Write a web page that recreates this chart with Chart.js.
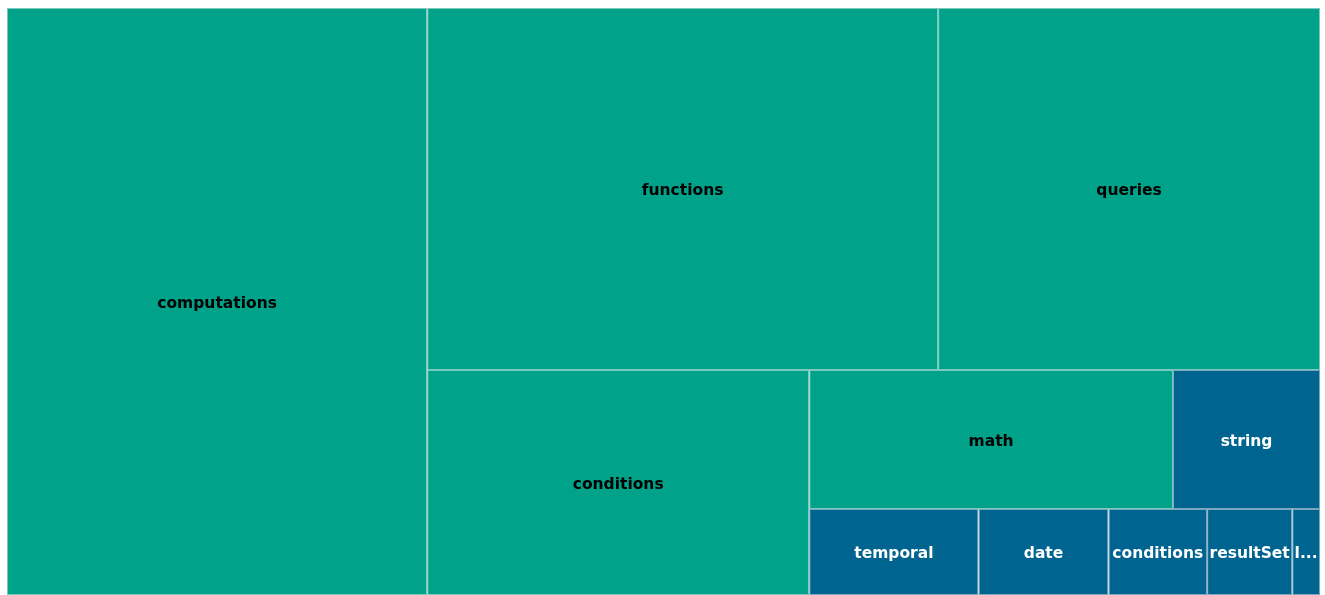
<!DOCTYPE html>
<html>
<head>
<meta charset="utf-8">
<script src="https://cdn.jsdelivr.net/npm/chart.js@4.4.1/dist/chart.umd.min.js"></script>
<style>
  html, body { margin: 0; padding: 0; background: #ffffff; }
  #wrap { width: 1325px; height: 595px; position: relative; }
</style>
</head>
<body>
<div id="wrap"><canvas id="treeChart"></canvas></div>
<script>
  // data (sorted by size, largest first)
  const categories = ['computations', 'functions', 'queries', 'conditions', 'math', 'string',
    'temporal', 'date', 'conditions', 'resultSet', 'lists'];
  const sizes = [320, 240, 179.4, 111.5, 65.6, 26.5, 18.9, 14.5, 11.0, 9.5, 3.1];
  const groups = ['A', 'A', 'A', 'A', 'A', 'B', 'B', 'B', 'B', 'B', 'B'];

  const groupFill = { A: '#00a389', B: '#006491' };
  const groupLine = { A: '#7ccabd', B: '#7aa9bf' };
  const groupText = { A: '#000000', B: '#ffffff' };

  // squarified layout, alternating strip direction each row
  function squarify(vals, w, h) {
    const total = vals.reduce((a, b) => a + b, 0);
    const areas = vals.map(v => v / total * w * h);
    const cells = [];
    let x = 0, y = 0, rw = w, rh = h, dir = 0, row = [];
    const aspect = (a, b) => Math.max(a / b, b / a);
    const rowSum = () => row.reduce((s, i) => s + areas[i], 0);

    function place() {
      const sum = rowSum();
      if (dir === 0) {
        const t = sum / rh;
        let yy = y;
        row.forEach(i => {
          const ch = areas[i] / t;
          cells[i] = { x0: x, y0: yy, x1: x + t, y1: yy + ch };
          yy += ch;
        });
        x += t; rw -= t;
      } else {
        const t = sum / rw;
        let xx = x;
        row.forEach(i => {
          const cw = areas[i] / t;
          cells[i] = { x0: xx, y0: y, x1: xx + cw, y1: y + t };
          xx += cw;
        });
        y += t; rh -= t;
      }
      dir = 1 - dir;
      row = [];
    }

    areas.forEach((a, i) => {
      if (row.length) {
        const last = areas[row[row.length - 1]];
        const side = dir === 0 ? rh : rw;
        const sum = rowSum();
        const t0 = sum / side, t1 = (sum + a) / side;
        if (aspect(t1, last / t1) > aspect(t0, last / t0)) place();
      }
      row.push(i);
    });
    if (row.length) place();
    // normalise to 0..1 for the scales
    return cells.map(c => ({ x0: c.x0 / w, x1: c.x1 / w, y0: c.y0 / h, y1: c.y1 / h }));
  }

  class TreemapController extends Chart.DatasetController {
    parse(start, count) {
      const parsed = this._cachedMeta._parsed;
      for (let i = start; i < start + count; i++) parsed[i] = { x: 0, y: 0 };
    }

    update(mode) {
      const meta = this._cachedMeta;
      this.updateElements(meta.data, 0, meta.data.length, mode);
    }

    updateElements(rects, start, count, mode) {
      const meta = this._cachedMeta;
      const xs = meta.xScale, ys = meta.yScale;
      const cells = squarify(this.getDataset().data, xs.width, ys.height);
      for (let i = start; i < start + count; i++) {
        const c = cells[i];
        const left = xs.getPixelForValue(c.x0), right = xs.getPixelForValue(c.x1);
        const top = ys.getPixelForValue(c.y0), bottom = ys.getPixelForValue(c.y1);
        this.updateElement(rects[i], i, {
          x: (left + right) / 2,
          y: top,
          base: bottom,
          width: right - left,
          height: bottom - top,
          horizontal: false,
          borderSkipped: {},
          inflateAmount: 0,
          options: this.resolveDataElementOptions(i, mode)
        }, mode);
      }
    }

    draw() {
      super.draw();
      const ctx = this.chart.ctx;
      const ds = this.getDataset();
      const meta = this._cachedMeta;
      ctx.save();
      ctx.font = 'bold 15.5px "DejaVu Sans"';
      ctx.textAlign = 'center';
      ctx.textBaseline = 'middle';
      meta.data.forEach((el, i) => {
        const maxW = el.width - 2;
        let txt = ds.labels[i];
        if (ctx.measureText(txt).width > maxW) {
          let n = txt.length;
          while (n > 0 && ctx.measureText(txt.slice(0, n) + '...').width > maxW) n--;
          txt = txt.slice(0, Math.max(n, 1)) + '...';
        }
        ctx.fillStyle = ds.textColors[i];
        ctx.fillText(txt, el.x, (el.y + el.base) / 2 + 2);
      });
      ctx.restore();
    }
  }
  TreemapController.id = 'treemap';
  TreemapController.defaults = { datasetElementType: false, dataElementType: 'bar' };
  Chart.register(TreemapController);

  const ctx = document.getElementById('treeChart').getContext('2d');

  new Chart(ctx, {
    type: 'treemap',
    data: {
      datasets: [{
        data: sizes,
        labels: categories,
        textColors: groups.map(g => groupText[g]),
        backgroundColor: groups.map(g => groupFill[g]),
        borderColor: groups.map(g => groupLine[g]),
        borderWidth: 1
      }]
    },
    options: {
      responsive: true,
      maintainAspectRatio: false,
      animation: false,
      layout: { padding: { left: 7, top: 8, right: 5, bottom: -1 } },
      scales: {
        x: { type: 'linear', min: 0, max: 1, display: false },
        y: { type: 'linear', min: 0, max: 1, reverse: true, display: false }
      },
      plugins: {
        legend: { display: false },
        tooltip: { enabled: false }
      }
    }
  });
</script>
</body>
</html>
